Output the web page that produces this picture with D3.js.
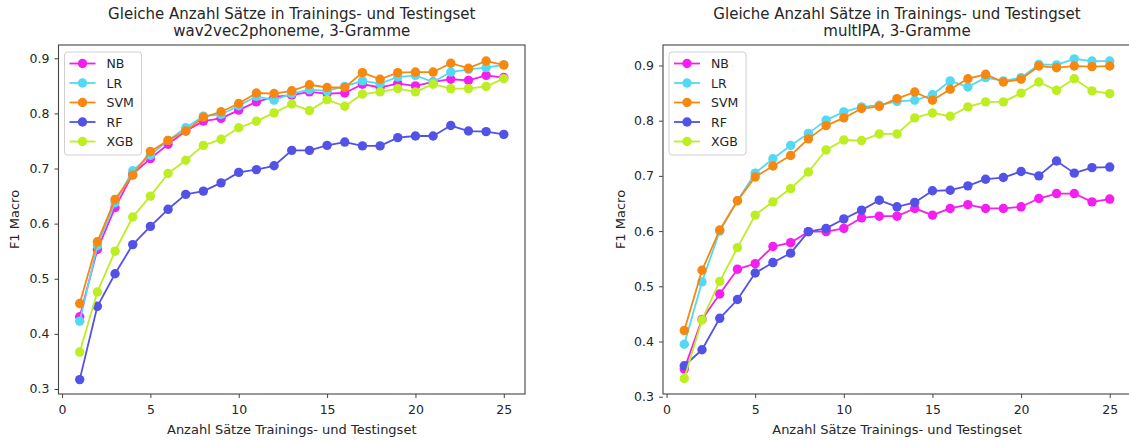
<!DOCTYPE html>
<html>
<head>
<meta charset="utf-8">
<script src="https://cdn.jsdelivr.net/npm/d3@7"></script>
<style>
  html, body { margin: 0; padding: 0; background: #fff; }
  svg { display: block; font-family: "DejaVu Sans", sans-serif; }
</style>
</head>
<body>
<svg id="chart" width="1129" height="440"></svg>
<script>
// Number of sentences (x axis)
const sentences = d3.range(1, 26);

const seriesNames = ["NB", "LR", "SVM", "RF", "XGB"];
const seriesColors = ["#f51ef0", "#55d8f2", "#f7870f", "#5252e6", "#bdee22"];

// Panel 1: wav2vec2phoneme, 3-grams
const w2vNB  = [0.431, 0.553, 0.629, 0.690, 0.718, 0.744, 0.768, 0.786, 0.791, 0.806, 0.821, 0.830, 0.833, 0.839, 0.836, 0.837, 0.853, 0.847, 0.854, 0.850, 0.857, 0.862, 0.860, 0.869, 0.865];
const w2vLR  = [0.423, 0.560, 0.638, 0.696, 0.724, 0.751, 0.774, 0.795, 0.798, 0.814, 0.831, 0.824, 0.836, 0.843, 0.841, 0.849, 0.859, 0.854, 0.866, 0.869, 0.857, 0.875, 0.880, 0.883, 0.888];
const w2vSVM = [0.455, 0.567, 0.644, 0.688, 0.731, 0.751, 0.768, 0.793, 0.803, 0.818, 0.837, 0.836, 0.841, 0.852, 0.847, 0.847, 0.874, 0.862, 0.874, 0.875, 0.875, 0.891, 0.882, 0.895, 0.888];
const w2vRF  = [0.317, 0.450, 0.509, 0.562, 0.595, 0.626, 0.653, 0.659, 0.674, 0.693, 0.698, 0.705, 0.733, 0.733, 0.742, 0.748, 0.741, 0.741, 0.756, 0.759, 0.759, 0.778, 0.768, 0.767, 0.762];
const w2vXGB = [0.367, 0.476, 0.550, 0.612, 0.650, 0.691, 0.715, 0.742, 0.753, 0.774, 0.786, 0.801, 0.817, 0.805, 0.825, 0.813, 0.835, 0.839, 0.845, 0.839, 0.853, 0.845, 0.845, 0.849, 0.863];

// Panel 2: multIPA, 3-grams
const ipaNB  = [0.350, 0.440, 0.486, 0.531, 0.541, 0.572, 0.579, 0.599, 0.599, 0.605, 0.624, 0.627, 0.627, 0.641, 0.629, 0.641, 0.648, 0.641, 0.641, 0.644, 0.659, 0.668, 0.668, 0.653, 0.658];
const ipaLR  = [0.395, 0.508, 0.600, 0.655, 0.705, 0.731, 0.755, 0.777, 0.801, 0.816, 0.825, 0.828, 0.835, 0.837, 0.847, 0.872, 0.861, 0.878, 0.872, 0.878, 0.902, 0.901, 0.912, 0.908, 0.908];
const ipaSVM = [0.420, 0.529, 0.602, 0.655, 0.698, 0.718, 0.737, 0.767, 0.791, 0.805, 0.822, 0.826, 0.840, 0.852, 0.837, 0.857, 0.876, 0.884, 0.870, 0.875, 0.899, 0.896, 0.899, 0.898, 0.899];
const ipaRF  = [0.356, 0.385, 0.442, 0.476, 0.524, 0.543, 0.560, 0.599, 0.605, 0.622, 0.638, 0.656, 0.644, 0.652, 0.673, 0.674, 0.682, 0.694, 0.697, 0.708, 0.700, 0.727, 0.705, 0.715, 0.716];
const ipaXGB = [0.333, 0.439, 0.509, 0.570, 0.629, 0.653, 0.677, 0.707, 0.747, 0.765, 0.764, 0.776, 0.776, 0.805, 0.814, 0.808, 0.825, 0.834, 0.834, 0.850, 0.870, 0.855, 0.876, 0.854, 0.849];

const xTicks = [0, 5, 10, 15, 20, 25];
const yTicks = [0.3, 0.4, 0.5, 0.6, 0.7, 0.8, 0.9];
const xLabel = "Anzahl Sätze Trainings- und Testingset";
const yLabel = "F1 Macro";

const panels = [
  {
    title: ["Gleiche Anzahl Sätze in Trainings- und Testingset", "wav2vec2phoneme, 3-Gramme"],
    series: [w2vNB, w2vLR, w2vSVM, w2vRF, w2vXGB],
    xRange: [58.5, 525], yRange: [394, 45], yDomain: [0.2909, 0.9241],
    yLabelX: 14
  },
  {
    title: ["Gleiche Anzahl Sätze in Trainings- und Testingset", "multIPA, 3-Gramme"],
    series: [ipaNB, ipaLR, ipaSVM, ipaRF, ipaXGB],
    xRange: [663, 1131], yRange: [394, 45], yDomain: [0.3049, 0.9371],
    yLabelX: 620
  }
];

const svg = d3.select("#chart");
const axisColor = "#444";
const textColor = "#262626";

panels.forEach((p, pi) => {
  const x = d3.scaleLinear().domain([-0.2, 26.2]).range(p.xRange);
  const y = d3.scaleLinear().domain(p.yDomain).range(p.yRange);
  const g = svg.append("g");

  const left = p.xRange[0], right = p.xRange[1];
  const top = p.yRange[1], bottom = p.yRange[0];

  // clip region for the plot area
  const clipId = "plotclip" + pi;
  svg.append("clipPath").attr("id", clipId)
    .append("rect").attr("x", left).attr("y", top)
    .attr("width", right - left).attr("height", bottom - top);

  // series: line with point markers, drawn in legend order
  const plot = g.append("g").attr("clip-path", `url(#${clipId})`);
  const line = d3.line().x((d, i) => x(sentences[i])).y(d => y(d));
  p.series.forEach((vals, si) => {
    const sg = plot.append("g");
    sg.append("path").datum(vals)
      .attr("d", line)
      .attr("fill", "none")
      .attr("stroke", seriesColors[si])
      .attr("stroke-width", 1.8)
      .attr("stroke-linejoin", "round");
    sg.selectAll("circle").data(vals).join("circle")
      .attr("cx", (d, i) => x(sentences[i]))
      .attr("cy", d => y(d))
      .attr("r", 4.7)
      .attr("fill", seriesColors[si]);
  });

  // axes
  const xAxis = d3.axisBottom(x).tickValues(xTicks).tickFormat(d3.format("d"))
    .tickSize(4).tickPadding(7);
  const yAxis = d3.axisLeft(y).tickValues(yTicks).tickFormat(d3.format(".1f"))
    .tickSize(4).tickPadding(5);

  const gx = g.append("g").attr("transform", `translate(0,${bottom})`).call(xAxis);
  const gy = g.append("g").attr("transform", `translate(${left},0)`).call(yAxis);
  [gx, gy].forEach(a => {
    a.select(".domain").remove();
    a.selectAll(".tick line").attr("stroke", axisColor).attr("stroke-width", 1);
    a.selectAll(".tick text").attr("fill", textColor)
      .style("font-family", "DejaVu Sans, sans-serif").style("font-size", "12.5px");
  });

  // frame
  g.append("rect")
    .attr("x", left).attr("y", top)
    .attr("width", right - left).attr("height", bottom - top)
    .attr("fill", "none").attr("stroke", axisColor).attr("stroke-width", 1.1);

  // two-line title
  const tcx = (left + right) / 2;
  g.append("text").attr("x", tcx).attr("y", 18.5).attr("text-anchor", "middle")
    .attr("fill", textColor).style("font-size", "15px").text(p.title[0]);
  g.append("text").attr("x", tcx).attr("y", 36).attr("text-anchor", "middle")
    .attr("fill", textColor).style("font-size", "15px").text(p.title[1]);

  // axis labels
  g.append("text").attr("x", tcx).attr("y", 434).attr("text-anchor", "middle")
    .attr("fill", textColor).style("font-size", "13px").text(xLabel);
  g.append("text")
    .attr("transform", `translate(${p.yLabelX},${(top + bottom) / 2}) rotate(-90)`)
    .attr("text-anchor", "middle").attr("dy", "0.35em")
    .attr("fill", textColor).style("font-size", "13px").text(yLabel);

  // legend
  const lg = g.append("g").attr("transform", `translate(${left + 6},${top + 7})`);
  lg.append("rect").attr("x", 0).attr("y", 0).attr("width", 77).attr("height", 103)
    .attr("rx", 3).attr("fill", "#fff").attr("fill-opacity", 0.85)
    .attr("stroke", "#d0d0d0").attr("stroke-width", 1);
  seriesNames.forEach((name, i) => {
    const yy = 11.5 + i * 19.5;
    lg.append("line").attr("x1", 5).attr("x2", 31).attr("y1", yy).attr("y2", yy)
      .attr("stroke", seriesColors[i]).attr("stroke-width", 1.8);
    lg.append("circle").attr("cx", 18).attr("cy", yy).attr("r", 4.7).attr("fill", seriesColors[i]);
    lg.append("text").attr("x", 42).attr("y", yy).attr("dy", "0.36em")
      .attr("fill", textColor).style("font-size", "12.5px").text(name);
  });
});
</script>
</body>
</html>
